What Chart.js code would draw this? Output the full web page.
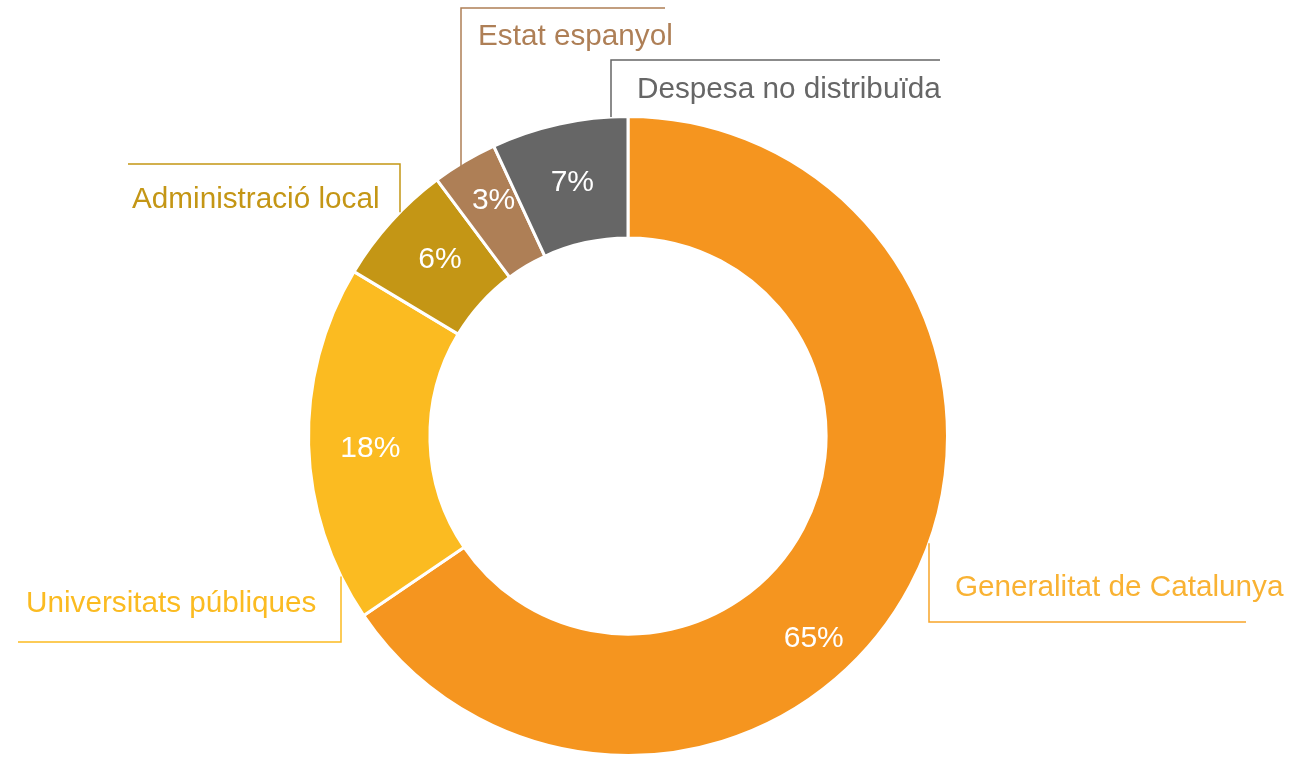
<!DOCTYPE html>
<html>
<head>
  <meta charset="utf-8">
  <title>Despesa per sectors</title>
  <style>
    html, body {
      margin: 0;
      padding: 0;
      background: #fff;
    }
    #wrap {
      position: relative;
      width: 1305px;
      height: 757px;
    }
  </style>
</head>
<body>
  <div id="wrap">
    <canvas id="donut" width="1305" height="757"></canvas>
  </div>

  <script src="https://cdn.jsdelivr.net/npm/chart.js"></script>

  <script>
    // dades
    const categories = ['Generalitat de Catalunya', 'Universitats públiques', 'Administració local', 'Estat espanyol', 'Despesa no distribuïda'];
    const shares = [65.5, 18.1, 6.2, 3.3, 6.9];
    const shareLabels = ['65%', '18%', '6%', '3%', '7%'];

    const sliceColors = ['#F5951F', '#FBBB21', '#C49615', '#AE7F56', '#666666'];
    const textColors = ['#F9B233', '#FBBB21', '#C49615', '#AE7F56', '#666666'];
    const lineColors = ['#F7A52A', '#FBBB21', '#C49615', '#AE7F56', '#666666'];

    // desplacament dels percentatges respecte al centre del segment
    const pctNudge = [[-43, 82], [1, 5], [4, -3], [-2, -13], [0, -1]];

    // posicio de les etiquetes exteriors, relativa al centre del donut
    // vx: x de la linia vertical, hy: y de la linia horitzontal, hx: final de l'horitzontal
    // tx, ty: inici del text i linia base
    const callouts = [
      { vx: 301, hy: 186, hx: 618, tx: 327, ty: 160, dip: 0 },
      { vx: -287, hy: 206, hx: -610, tx: -602, ty: 176, dip: 0 },
      { vx: -228, hy: -272, hx: -500, tx: -496, ty: -228, dip: 0 },
      { vx: -167, hy: -428, hx: 37, tx: -150, ty: -391, dip: 6 },
      { vx: -17, hy: -376, hx: 312, tx: 9, ty: -338, dip: 0 }
    ];

    const labelPlugin = {
      id: 'labels',
      afterDraw(chart) {
        const ctx = chart.ctx;
        const meta = chart.getDatasetMeta(0);
        const first = meta.data[0];
        const cx = first.x, cy = first.y, R = first.outerRadius;

        ctx.save();
        // percentatges dins dels segments
        ctx.fillStyle = '#fff';
        ctx.font = '30px "Liberation Sans", Arial, sans-serif';
        ctx.textAlign = 'center';
        ctx.textBaseline = 'middle';
        meta.data.forEach((arc, i) => {
          const p = arc.tooltipPosition();
          ctx.fillText(shareLabels[i], p.x + pctNudge[i][0], p.y + pctNudge[i][1]);
        });

        // linies guia i noms
        ctx.lineWidth = 1.5;
        ctx.font = '29.7px "Liberation Sans", Arial, sans-serif';
        ctx.textAlign = 'left';
        ctx.textBaseline = 'alphabetic';
        callouts.forEach((c, i) => {
          const x = cx + c.vx;
          const sign = c.hy < 0 ? -1 : 1;
          const edgeY = cy + sign * Math.sqrt(Math.max(R * R - c.vx * c.vx, 0)) - sign * c.dip;
          ctx.strokeStyle = lineColors[i];
          ctx.beginPath();
          ctx.moveTo(x, edgeY);
          ctx.lineTo(x, cy + c.hy);
          ctx.lineTo(cx + c.hx, cy + c.hy);
          ctx.stroke();

          ctx.fillStyle = textColors[i];
          ctx.fillText(categories[i], cx + c.tx, cy + c.ty);
        });
        ctx.restore();
      }
    };

    new Chart(document.getElementById('donut').getContext('2d'), {
      type: 'doughnut',
      data: {
        labels: categories,
        datasets: [{
          data: shares,
          backgroundColor: sliceColors,
          borderColor: '#fff',
          borderWidth: 3
        }]
      },
      options: {
        responsive: false,
        maintainAspectRatio: false,
        animation: false,
        cutout: '62%',
        layout: {
          padding: { top: 115, bottom: 0, left: 0, right: 49 }
        },
        plugins: {
          legend: { display: false },
          tooltip: { enabled: false }
        }
      },
      plugins: [labelPlugin]
    });
  </script>
</body>
</html>
